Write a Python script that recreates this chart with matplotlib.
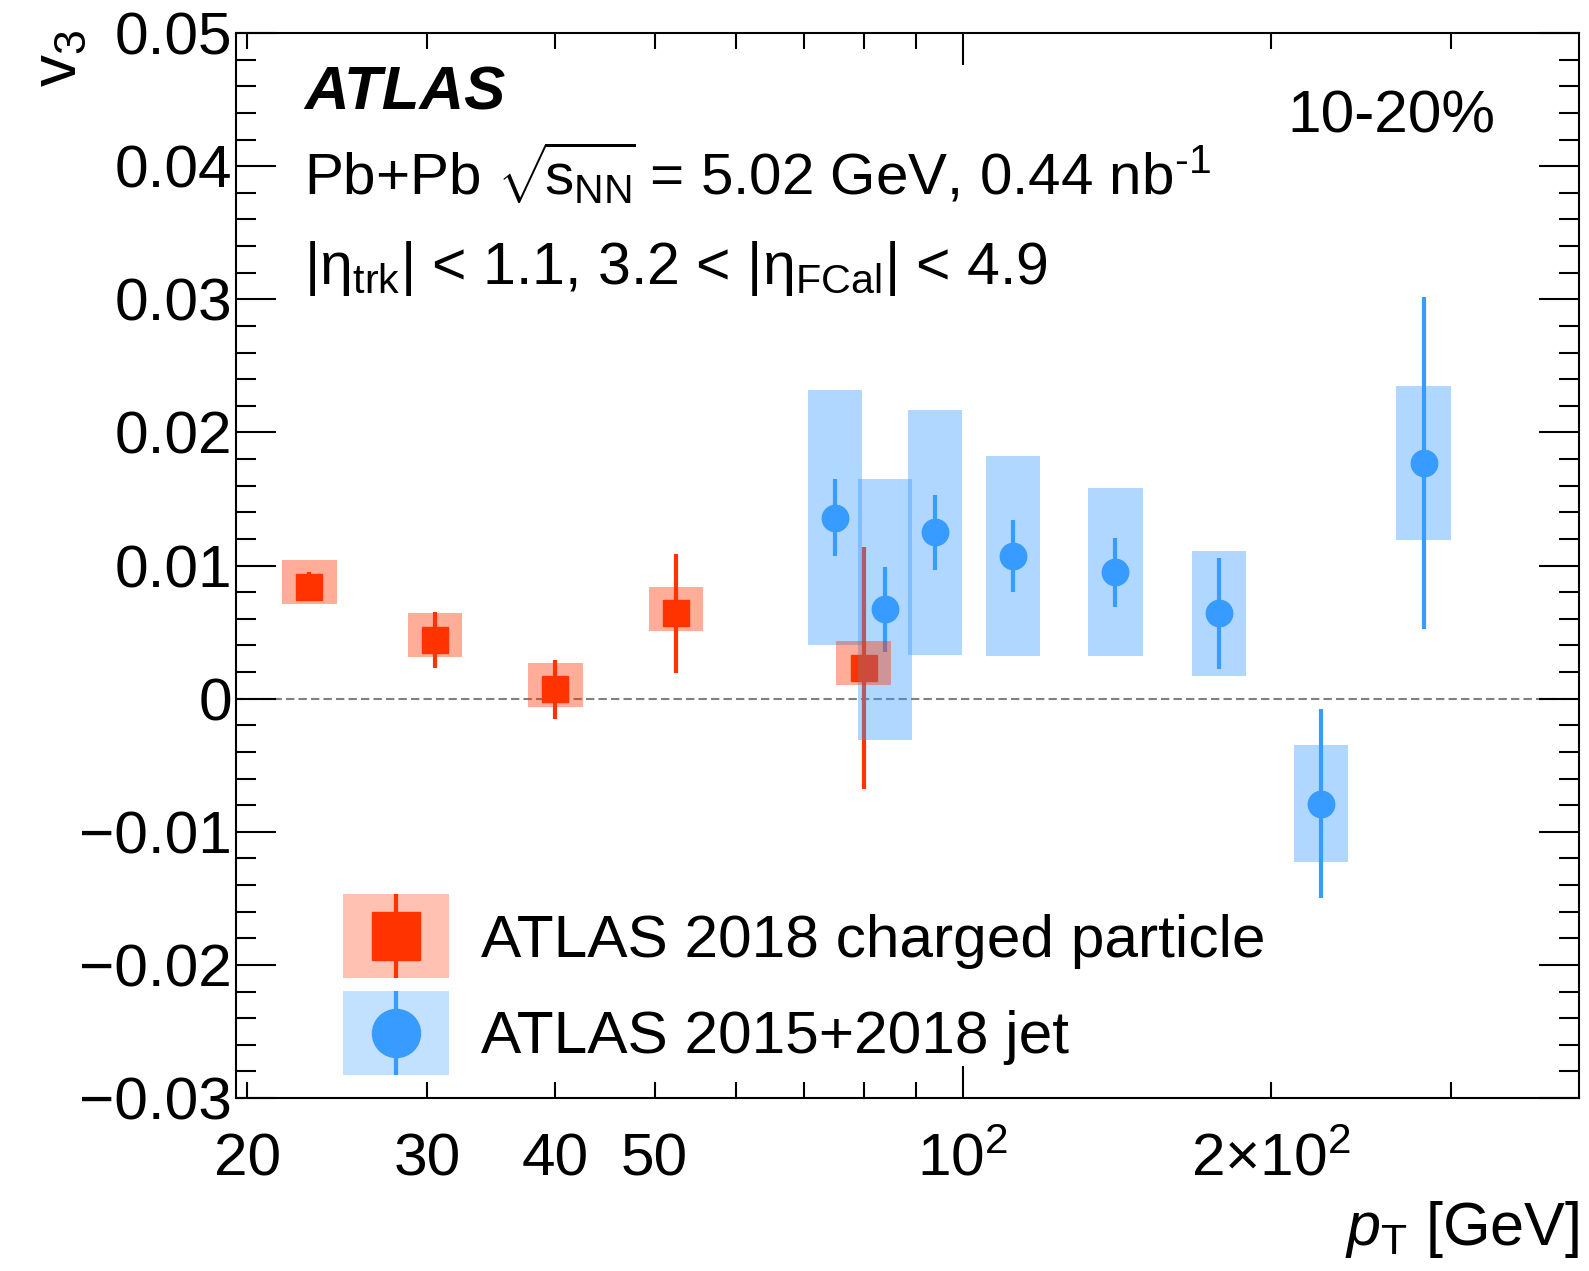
import numpy as np
import matplotlib
matplotlib.use('Agg')
import matplotlib.pyplot as plt
from matplotlib.ticker import FixedLocator, FuncFormatter, MultipleLocator
from matplotlib.patches import Patch, Rectangle
from matplotlib.container import ErrorbarContainer
from matplotlib.legend_handler import HandlerErrorbar, HandlerTuple, HandlerPatch

# charged particle v3 (2018)
pt_ch = [23.0, 30.5, 40.0, 52.5, 80.0]
v3_ch = [0.0084, 0.0044, 0.0007, 0.0064, 0.0023]
stat_ch = [0.0011, 0.0021, 0.0022, 0.0045, 0.0091]
sys_ch_up = [0.0020, 0.0020, 0.0020, 0.0020, 0.0020]
sys_ch_dn = [0.0013, 0.0013, 0.0013, 0.0013, 0.0013]

# jet v3 (2015+2018)
pt_jet = [75, 84, 94, 112, 141, 178, 224, 282]
v3_jet = [0.0136, 0.0067, 0.0125, 0.0107, 0.0095, 0.0064, -0.0079, 0.0177]
stat_jet = [0.0029, 0.0032, 0.0028, 0.0027, 0.0026, 0.0042, 0.0071, 0.0125]
sys_jet = [0.0096, 0.0098, 0.0092, 0.0075, 0.0063, 0.0047, 0.0044, 0.0058]

xtick_labels = {20: '20', 30: '30', 40: '40', 50: '50',
                100: r'$10^2$', 200: r'$2{\times}10^2$'}

#Configuration
fs = 43.5
titlefs = 44
red = '#FF3300'
blue = '#389BFF'
boxw = 1.063   # half width of syst. boxes, as a factor on log scale
ms = 19
elw = 3
leg_shift = 7.3  # points the legend symbols sit below the default centre

plt.rcParams['font.family'] = ['Liberation Sans', 'DejaVu Sans']
plt.rcParams['mathtext.fontset'] = 'custom'
plt.rcParams['mathtext.rm'] = 'Liberation Sans'
plt.rcParams['mathtext.it'] = 'Liberation Sans:italic'
plt.rcParams['mathtext.bf'] = 'Liberation Sans:bold'

fig = plt.figure(figsize=(15.89, 12.71), dpi=100)
ax = fig.add_axes([0.1485, 0.1361, 0.8452, 0.8379])
ax.set_xscale('log')
ax.set_xlim(19.5, 400)
ax.set_ylim(-0.03, 0.05)

ax.axhline(0, color='#808080', lw=1.5, dashes=(4, 2), zorder=1)

pt_ch = np.array(pt_ch)
pt_jet = np.array(pt_jet)
v3_ch = np.array(v3_ch)
v3_jet = np.array(v3_jet)
sys_ch_up = np.array(sys_ch_up)
sys_ch_dn = np.array(sys_ch_dn)
sys_jet = np.array(sys_jet)

eb_ch = ax.errorbar(pt_ch, v3_ch, yerr=stat_ch, fmt='s', color=red, ms=ms,
                    elinewidth=elw, capsize=0, zorder=2)
ax.bar(pt_jet / boxw, 2 * sys_jet, width=pt_jet * boxw - pt_jet / boxw,
       bottom=v3_jet - sys_jet, align='edge', color=blue, alpha=0.4,
       lw=0, zorder=3)
eb_jet = ax.errorbar(pt_jet, v3_jet, yerr=stat_jet, fmt='o', color=blue, ms=ms,
                     elinewidth=elw, capsize=0, zorder=4)
ax.bar(pt_ch / boxw, sys_ch_up + sys_ch_dn, width=pt_ch * boxw - pt_ch / boxw,
       bottom=v3_ch - sys_ch_dn, align='edge', color=red, alpha=0.4,
       lw=0, zorder=5)

# axes ticks
ax.xaxis.set_major_locator(FixedLocator([100]))
ax.xaxis.set_minor_locator(FixedLocator([20, 30, 40, 50, 60, 70, 80, 90, 200, 300]))
ax.xaxis.set_major_formatter(FuncFormatter(lambda v, p: xtick_labels.get(int(round(v)), '')))
ax.xaxis.set_minor_formatter(FuncFormatter(lambda v, p: xtick_labels.get(int(round(v)), '')))
ax.yaxis.set_major_locator(MultipleLocator(0.01))
ax.yaxis.set_minor_locator(MultipleLocator(0.002))

def yfmt(v, p):
    if abs(v) < 1e-9:
        return '0'
    return ('%.2f' % v).replace('-', '\u2212')
ax.yaxis.set_major_formatter(FuncFormatter(yfmt))

ax.tick_params(axis='both', which='both', direction='in', top=True, right=True,
               width=1.5, labelsize=fs)
ax.tick_params(axis='x', which='major', length=23, pad=25)
ax.tick_params(axis='x', which='minor', length=11.5, pad=25)
ax.tick_params(axis='y', which='major', length=29, pad=3)
ax.tick_params(axis='y', which='minor', length=14.5, pad=3)
for s in ax.spines.values():
    s.set_linewidth(1.5)

ax.set_xlabel(r'$p_{\mathrm{T}}$ [GeV]', fontsize=titlefs, loc='right')
ax.xaxis.set_label_coords(1.0, -0.138)
ax.xaxis.label.set_va('baseline')
ax.set_ylabel(r'v$_3$', fontsize=46, loc='top')
ax.yaxis.set_label_coords(-0.119, 1.003)
ax.yaxis.label.set_va('baseline')

# labels
ax.text(0.0506, 0.928, 'ATLAS', transform=ax.transAxes, fontsize=44.5,
        fontweight='bold', fontstyle='italic', va='baseline')
ax.text(0.0506, 0.848,
        r'Pb+Pb $\sqrt{\!\mathrm{s}_{\mathrm{NN}}\!}$ = 5.02 GeV, 0.44 nb$^{\text{-1}}$',
        transform=ax.transAxes, fontsize=42, va='baseline')
ax.text(0.0506, 0.764,
        r'|$\mathrm{\eta}_{\mathrm{trk}}$| < 1.1, 3.2 < |$\mathrm{\eta}_{\mathrm{FCal}}$| < 4.9',
        transform=ax.transAxes, fontsize=42.5, va='baseline')
ax.text(0.9375, 0.907, '10-20%', transform=ax.transAxes, fontsize=fs,
        ha='right', va='baseline')


# legend: syst. box centred on the marker, stat. bar across the full box
def legend_box(legend, orig_handle, xdescent, ydescent, width, height, fontsize):
    yc = (height - ydescent) / 2 - leg_shift
    h = 1.39 * fontsize
    return Rectangle((-xdescent, yc - h / 2), width, h)


class LowErrorbar(HandlerErrorbar):
    def create_artists(self, legend, orig_handle, xdescent, ydescent,
                       width, height, fontsize, trans):
        return super().create_artists(legend, orig_handle, xdescent,
                                      ydescent + 2 * leg_shift, width, height,
                                      fontsize, trans)


handles = [(Patch(color=red, alpha=0.3, lw=0), eb_ch),
           (Patch(color=blue, alpha=0.3, lw=0), eb_jet)]
labels = ['ATLAS 2018 charged particle', 'ATLAS 2015+2018 jet']
ax.legend(handles, labels, loc='upper left', bbox_to_anchor=(0.0797, 0.1905),
          frameon=False, fontsize=fs, borderpad=0, borderaxespad=0,
          handlelength=1.75, handleheight=1.76, handletextpad=0.53,
          labelspacing=0.21, markerscale=1.82,
          handler_map={ErrorbarContainer: LowErrorbar(yerr_size=0.695),
                       Patch: HandlerPatch(patch_func=legend_box),
                       tuple: HandlerTuple(ndivide=1)})

fig.savefig('out.png', dpi=100)
